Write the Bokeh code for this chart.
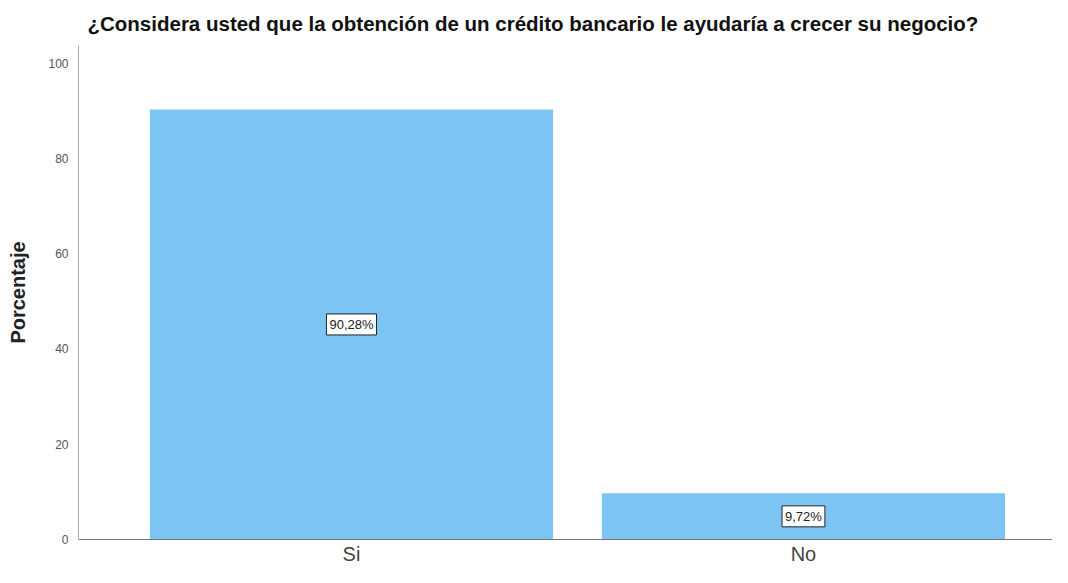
from bokeh.plotting import figure
from bokeh.models import ColumnDataSource, Range1d, FixedTicker
from bokeh.core.properties import value
from bokeh.embed import file_html
from bokeh.resources import INLINE

categories = ["Si", "No"]
values = [90.28, 9.72]
labels = ["90,28%", "9,72%"]
y_ticks = [0, 20, 40, 60, 80, 100]

xs = list(range(len(categories)))
src = ColumnDataSource(dict(x=xs, top=values, ymid=[v / 2 for v in values], lab=labels))

p = figure(width=1052, height=567, output_backend="svg", toolbar_location=None,
           x_range=Range1d(-0.604, 1.551), y_range=Range1d(0, 103.7),
           min_border_left=78, min_border_right=0, min_border_top=45, min_border_bottom=0)
p.title.text = "¿Considera usted que la obtención de un crédito bancario le ayudaría a crecer su negocio?"
p.title.text_font = "Liberation Sans"
p.title.text_font_size = "20.5px"
p.title.text_font_style = "bold"
p.title.text_color = "#111111"
p.title.offset = 9
p.title.standoff = 18
p.title.vertical_align = "top"

p.vbar(x="x", top="top", width=0.892, source=src, fill_color="#7cc4f4", line_color=None)

p.text(x="x", y="ymid", text="lab", source=src, text_align="center",
       text_baseline="middle", text_font_size="13px", text_font=value("Liberation Sans"),
       text_color="#222222", background_fill_color="white",
       border_line_color="#222222", border_line_width=1, padding=3)

p.xgrid.visible = False
p.ygrid.visible = False
p.outline_line_color = None

p.xaxis.ticker = FixedTicker(ticks=xs)
p.xaxis.major_label_overrides = {i: c for i, c in enumerate(categories)}
p.xaxis.major_label_text_font = "Liberation Sans"
p.xaxis.major_label_text_font_size = "20px"
p.xaxis.major_label_text_color = "#444444"
p.xaxis.major_label_standoff = 3

p.yaxis.ticker = FixedTicker(ticks=y_ticks)
p.yaxis.major_label_text_font = "Liberation Sans"
p.yaxis.major_label_text_font_size = "12px"
p.yaxis.major_label_text_color = "#555555"
p.yaxis.major_label_standoff = 10
p.yaxis.axis_label = "Porcentaje"
p.yaxis.axis_label_text_font = "Liberation Sans"
p.yaxis.axis_label_text_font_size = "20px"
p.yaxis.axis_label_text_font_style = "bold"
p.yaxis.axis_label_text_color = "#222222"
p.yaxis.axis_label_standoff = 16

for ax in (p.xaxis, p.yaxis):
    ax.major_tick_line_color = None
    ax.minor_tick_line_color = None
    ax.major_tick_out = 0
    ax.major_tick_in = 0
    ax.minor_tick_out = 0
    ax.minor_tick_in = 0
    ax.axis_line_width = 1
p.xaxis.axis_line_color = "#777777"
p.yaxis.axis_line_color = "#aaaaaa"

open("out.html", "w").write(file_html(p, INLINE))
